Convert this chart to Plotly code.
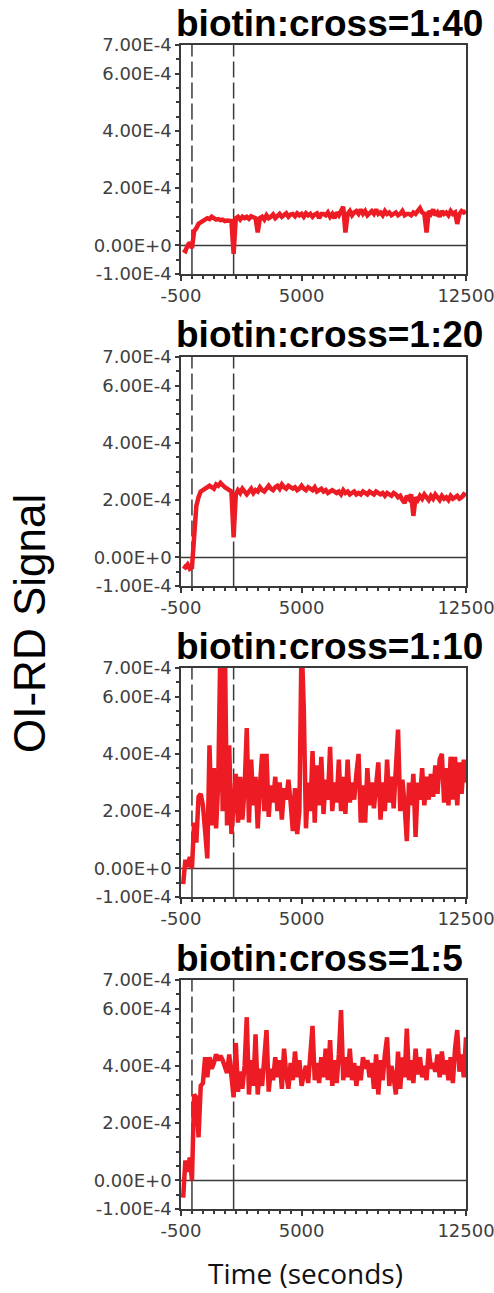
import plotly.graph_objects as go

# ---------------- data ----------------
time_s = list(range(-400, 12501, 100))  # sampling times (s)

titles = ["biotin:cross=1:40", "biotin:cross=1:20", "biotin:cross=1:10", "biotin:cross=1:5"]

# OI-RD signal, in units of 1e-4
sig_1_40 = [
    -0.15, -0.2, 0.0, 0.1, -0.1, 0.5, 0.6, 0.75, 0.8, 0.85,
    0.9, 0.95, 0.92, 1.0, 0.95, 0.9, 0.92, 0.88, 0.9, 0.85,
    0.87, 0.86, 0.85, -0.3, 0.95, 1.0, 0.9, 1.0, 0.95, 1.0,
    0.93, 1.02, 0.98, 0.95, 0.45, 0.95, 1.0, 0.9, 1.05, 0.95,
    1.0, 1.08, 0.95, 1.05, 1.1, 1.0, 1.05, 1.12, 1.0, 1.08,
    1.1, 1.02, 1.12, 1.05, 1.1, 1.0, 1.12, 1.05, 1.1, 1.0,
    1.08, 1.12, 0.95, 1.1, 1.1, 1.05, 1.15, 1.0, 1.1, 0.95,
    1.15, 1.05, 1.2, 1.35, 0.45, 1.1, 1.2, 1.05, 1.15, 1.2,
    1.1, 1.25, 1.1, 1.2, 1.05, 1.15, 1.2, 1.1, 1.25, 1.1,
    1.15, 1.05, 1.2, 1.1, 1.15, 1.05, 1.1, 1.15, 1.05, 1.1,
    1.2, 1.05, 1.1, 1.1, 1.05, 1.15, 1.1, 1.2, 1.3, 1.15,
    1.1, 0.45, 1.2, 1.1, 1.25, 1.05, 1.15, 1.0, 1.2, 1.1,
    1.15, 1.05, 1.2, 1.1, 1.15, 0.75, 1.1, 1.2, 1.15, 1.2,
]
sig_1_20 = [
    -0.3, -0.35, -0.25, -0.4, -0.35, 1.0, 1.8, 2.1, 2.3, 2.35,
    2.4, 2.45, 2.5, 2.45, 2.4, 2.55, 2.5, 2.6, 2.5, 2.45,
    2.4, 2.35, 2.3, 0.7, 2.2, 2.35, 2.25, 2.4, 2.3, 2.2,
    2.3, 2.4, 2.25, 2.35, 2.3, 2.45, 2.35, 2.3, 2.4, 2.5,
    2.4, 2.35, 2.45, 2.5, 2.4, 2.55, 2.45, 2.4, 2.5, 2.45,
    2.4, 2.45, 2.35, 2.4, 2.5, 2.4, 2.35, 2.45, 2.4, 2.35,
    2.45, 2.3, 2.35, 2.4, 2.3, 2.35, 2.25, 2.3, 2.35, 2.3,
    2.25, 2.3, 2.2, 2.35, 2.25, 2.3, 2.2, 2.25, 2.3, 2.2,
    2.25, 2.2, 2.3, 2.25, 2.2, 2.3, 2.25, 2.2, 2.3, 2.25,
    2.2, 2.25, 2.15, 2.25, 2.2, 2.15, 2.25, 2.2, 2.1, 2.15,
    2.0, 1.9, 2.15, 2.05, 2.2, 1.45, 2.1, 2.0, 2.15, 2.05,
    2.2, 2.1, 2.0, 2.15, 2.05, 2.2, 2.1, 2.0, 2.15, 2.05,
    2.1, 2.0, 2.15, 2.05, 2.1, 2.15, 2.05, 2.1, 2.2, 2.15,
]
sig_1_10 = [
    -0.55, 0.3, 0.05, 0.4, 0.0, 1.6, 0.9, 2.5, 2.6, 2.2,
    1.3, 0.35, 4.3, 1.5, 3.5, 1.4, 3.0, 8.0, 2.0, 8.0,
    1.5, 4.3, 1.2, 2.6, 3.3, 1.6, 3.2, 1.7, 2.8, 4.9,
    1.6, 3.8, 2.2, 3.2, 1.4, 2.9, 4.0, 2.0, 4.0, 1.8,
    2.9, 2.3, 3.2, 2.0, 3.0, 1.7, 2.8, 2.4, 3.1, 2.3,
    1.3, 2.8, 1.2, 2.0, 8.0, 5.6, 1.4, 3.0, 2.0, 4.1,
    1.6, 3.6, 2.2, 3.9, 1.9, 3.1, 2.4, 4.25, 2.0, 3.0,
    2.3, 3.8, 2.0, 3.2, 1.9, 3.8, 2.3, 3.0, 2.4, 3.3,
    4.0, 1.6, 2.9, 1.6, 3.5, 2.2, 3.0, 2.1, 3.1, 3.7,
    1.7, 3.0, 2.0, 3.8, 2.3, 3.2, 2.1, 3.3, 4.85, 2.0,
    3.1, 2.2, 0.95, 3.0, 2.2, 3.3, 1.1, 3.0, 2.4, 3.5,
    2.2, 3.2, 2.4, 3.3, 2.5, 3.6, 2.6, 3.8, 4.0, 2.3,
    3.5, 2.2, 3.9, 2.4, 3.9, 2.2, 3.7, 2.6, 3.8, 3.0,
]
sig_1_5 = [
    -0.6, 0.7, 0.3, 0.8, 0.0, 3.0, 2.9, 1.5, 3.3, 3.4,
    4.3, 3.6, 4.3, 3.9, 4.1, 4.4, 4.2, 4.35, 4.2, 3.9,
    3.75, 4.4, 3.7, 2.9, 4.8, 3.1, 3.8, 3.2, 4.0, 5.7,
    3.0, 4.2, 3.3, 5.1, 3.0, 3.9, 3.3, 4.4, 5.25, 3.1,
    3.9, 3.5, 4.3, 3.6, 4.2, 3.2, 4.6, 3.7, 3.2, 4.1,
    3.5, 4.5, 3.6, 4.2, 3.3, 3.7, 4.0, 3.4, 4.6, 5.4,
    3.5, 4.1, 3.4, 4.3, 3.6, 4.6, 3.5, 4.9, 3.3, 4.2,
    3.4, 4.4, 5.95, 3.5, 4.3, 3.6, 4.6, 3.5, 4.1, 3.3,
    4.0, 3.5, 4.3, 3.9, 4.2, 3.6, 4.1, 3.2, 4.4, 3.0,
    4.2, 3.5, 4.4, 5.0, 3.3, 4.0, 3.6, 3.0, 4.5, 3.2,
    4.3, 3.6, 5.3, 3.5, 4.2, 3.4, 4.6, 3.7, 4.3, 3.6,
    4.0, 3.5, 4.6, 3.9, 4.1, 3.8, 4.4, 3.6, 4.5, 3.7,
    4.2, 3.5, 4.3, 3.4, 4.6, 5.25, 3.8, 4.4, 3.6, 5.0,
]
signal_unit = 1e-4

x_range = [-500, 12500]
y_range = [-1e-4, 7e-4]
xtick_vals = [-500, 5000, 10000, 12500]
xtick_text = ["-500", "5000", "", "12500"]
ytick_vals = [-1e-4, 0, 2e-4, 4e-4, 6e-4, 7e-4]
ytick_text = ["-1.00E-4", "0.00E+0", "2.00E-4", "4.00E-4", "6.00E-4", "7.00E-4"]
event_times = [0, 1900]

series = [sig_1_40, sig_1_20, sig_1_10, sig_1_5]

# ---------------- layout geometry (pixels) ----------------
W, H = 494, 1293
plot_left, plot_right = 181, 466
panel_tops = [45, 357, 668, 980]
panel_h = 229

RED = "#ED1C24"
AX = "#3a3a3a"
TICKFONT = dict(family="DejaVu Sans", size=18, color="#404040")

fig = go.Figure()
layout = dict(
    width=W, height=H, margin=dict(l=0, r=0, t=0, b=0, autoexpand=False),
    paper_bgcolor="white", plot_bgcolor="white", showlegend=False,
    template="none",
)
shapes = []
annotations = []

minor_x = list(range(-500, 12501, 500))
minor_y = [k * 0.5e-4 for k in range(-2, 15)]

for i, (title, sig) in enumerate(zip(titles, series)):
    n = "" if i == 0 else str(i + 1)
    xa, ya = "x" + n, "y" + n
    assert len(sig) == len(time_s)
    fig.add_trace(go.Scatter(
        x=time_s, y=[v * signal_unit for v in sig], mode="lines",
        line=dict(color=RED, width=4.5), xaxis=xa, yaxis=ya,
    ))
    top = panel_tops[i]
    bot = top + panel_h
    layout["xaxis" + n] = dict(
        domain=[plot_left / W, plot_right / W], anchor=ya, range=x_range,
        automargin=False, ticklabeloverflow="allow",
        showgrid=False, zeroline=False, showline=True, mirror=True,
        linecolor=AX, linewidth=1.5,
        tickmode="array", tickvals=xtick_vals, ticktext=xtick_text,
        ticks="outside", ticklen=5, tickwidth=1.5, tickcolor=AX,
        tickfont=TICKFONT,
        minor=dict(tickmode="array", tickvals=minor_x, ticks="outside",
                   ticklen=3, tickwidth=1.5, tickcolor=AX, showgrid=False),
    )
    layout["yaxis" + n] = dict(
        domain=[1 - bot / H, 1 - top / H], anchor=xa, range=y_range,
        automargin=False, ticklabeloverflow="allow",
        showgrid=False, zeroline=False, showline=True, mirror=True,
        linecolor=AX, linewidth=1.5,
        tickmode="array", tickvals=ytick_vals, ticktext=ytick_text,
        ticks="outside", ticklen=4, tickwidth=1.5, tickcolor=AX,
        tickfont=TICKFONT,
        minor=dict(tickmode="array", tickvals=minor_y, ticks="outside",
                   ticklen=3, tickwidth=1.5, tickcolor=AX, showgrid=False),
    )
    # zero line
    shapes.append(dict(type="line", xref=xa, yref=ya, x0=x_range[0], x1=x_range[1],
                       y0=0, y1=0, line=dict(color=AX, width=1.5), layer="below"))
    for t in event_times:
        shapes.append(dict(type="line", xref=xa, yref=ya, x0=t, x1=t, y0=0, y1=y_range[1],
                           line=dict(color=AX, width=1.5, dash="16px,5px"), layer="below"))
        shapes.append(dict(type="line", xref=xa, yref=ya, x0=t, x1=t, y0=y_range[0], y1=0,
                           line=dict(color=AX, width=1.5), layer="below"))
    annotations.append(dict(
        text="<b>" + title + "</b>", xref="paper", yref="paper",
        x=174 / W, y=1 - (top - 22) / H, xanchor="left", yanchor="middle",
        showarrow=False, font=dict(family="Liberation Sans", size=37, color="black"),
    ))

annotations.append(dict(
    text="OI-RD Signal", xref="paper", yref="paper", x=29 / W, y=1 - 624 / H,
    xanchor="center", yanchor="middle", textangle=-90, showarrow=False,
    font=dict(family="Liberation Sans", size=44, color="black"),
))
annotations.append(dict(
    text="Time (seconds)", xref="paper", yref="paper", x=305 / W, y=1 - 1273 / H,
    xanchor="center", yanchor="middle", showarrow=False,
    font=dict(family="Open Sans", size=28, color="#111111"),
))

layout["shapes"] = shapes
layout["annotations"] = annotations
fig.update_layout(**layout)
fig.write_html("out.html", config={"displayModeBar": False},
               post_script="document.body.style.margin='0';")
